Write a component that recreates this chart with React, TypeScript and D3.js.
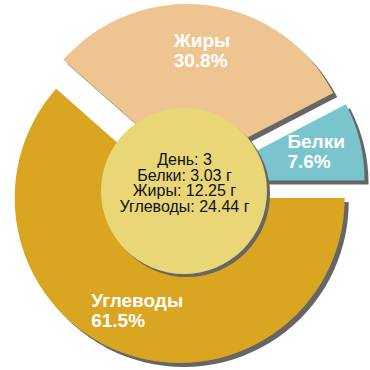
import React, { useEffect, useRef } from "react";
import * as d3 from "d3";

const categories = ["Углеводы", "Жиры", "Белки"];
const grams = [24.44, 12.25, 3.03];
const colors = ["#DAA520", "#EEC591", "#7AC5CD"];
const dayLabel = "День: 3";
const centerLines = [
  dayLabel,
  "Белки: 3.03 г",
  "Жиры: 12.25 г",
  "Углеводы: 24.44 г",
];

const W = 370;
const H = 370;
const CX = 185;
const CY = 184;
const R = 165;
const EXPLODE = 15;
const LABEL_R = 120;
const SHADOW = 4;
const CENTER_CX = 184;
const CENTER_CY = 191;
const CENTER_R = 83;
const FONT = "'Liberation Sans', Arial, Helvetica, sans-serif";

export default function App() {
  const ref = useRef<SVGSVGElement>(null);

  useEffect(() => {
    document.body.style.margin = "0";
    const svg = d3.select(ref.current);
    svg.selectAll("*").remove();

    const total = d3.sum(grams);
    const data = categories.map((c, i) => ({ name: c, value: grams[i], color: colors[i] }));
    const pie = d3
      .pie<any>()
      .sort(null)
      .value((d: any) => d.value)
      .startAngle(Math.PI / 2)
      .endAngle(Math.PI / 2 + 2 * Math.PI);
    const arcs = pie(data);
    const arc = d3.arc<any>().innerRadius(0).outerRadius(R);
    const labelArc = d3.arc<any>().innerRadius(LABEL_R).outerRadius(LABEL_R);

    const offset = (a: any) => {
      const mid = (a.startAngle + a.endAngle) / 2;
      return [Math.sin(mid) * EXPLODE, -Math.cos(mid) * EXPLODE];
    };

    const root = svg.append("g").attr("transform", `translate(${CX},${CY})`);

    // shadows
    root
      .selectAll("path.shadow")
      .data(arcs)
      .enter()
      .append("path")
      .attr("class", "shadow")
      .attr("d", arc as any)
      .attr("fill", "#666")
      .attr("transform", (a: any) => {
        const [dx, dy] = offset(a);
        return `translate(${dx + SHADOW},${dy + SHADOW})`;
      });

    // slices
    root
      .selectAll("path.slice")
      .data(arcs)
      .enter()
      .append("path")
      .attr("class", "slice")
      .attr("d", arc as any)
      .attr("fill", (a: any) => a.data.color)
      .attr("transform", (a: any) => {
        const [dx, dy] = offset(a);
        return `translate(${dx},${dy})`;
      });

    // center circle
    svg
      .append("circle")
      .attr("cx", CENTER_CX + 3)
      .attr("cy", CENTER_CY + 3)
      .attr("r", CENTER_R)
      .attr("fill", "#666");
    svg
      .append("circle")
      .attr("cx", CENTER_CX)
      .attr("cy", CENTER_CY)
      .attr("r", CENTER_R)
      .attr("fill", "#E8D677");

    const lineH = 15.7;
    const ct = svg
      .append("text")
      .attr("font-family", FONT)
      .attr("font-size", 16)
      .attr("fill", "#111")
      .attr("text-anchor", "middle");
    centerLines.forEach((l, i) => {
      ct.append("tspan")
        .attr("x", CENTER_CX + 0.5)
        .attr("y", CENTER_CY - 26 + i * lineH)
        .text(l);
    });

    // labels
    arcs.forEach((a: any) => {
      const [dx, dy] = offset(a);
      const [lx, ly] = labelArc.centroid(a);
      const pct = ((a.data.value / total) * 100).toFixed(1) + "%";
      const g = root.append("g");
      const t = g
        .append("text")
        .attr("font-family", FONT)
        .attr("font-size", 19)
        .attr("font-weight", "bold")
        .attr("fill", "#fff");
      t.append("tspan").attr("x", 0).attr("y", 0).text(a.data.name);
      t.append("tspan").attr("x", 0).attr("y", 20).text(pct);
      const bb = (t.node() as SVGTextElement).getBBox();
      const tx = dx + lx - (bb.x + bb.width / 2);
      const ty = dy + ly - (bb.y + bb.height / 2);
      g.attr("transform", `translate(${tx},${ty})`);
    });
  }, []);

  return (
    <svg
      ref={ref}
      width={W}
      height={H}
      style={{ display: "block", position: "absolute", left: 0, top: 0, background: "#fff" }}
    />
  );
}
